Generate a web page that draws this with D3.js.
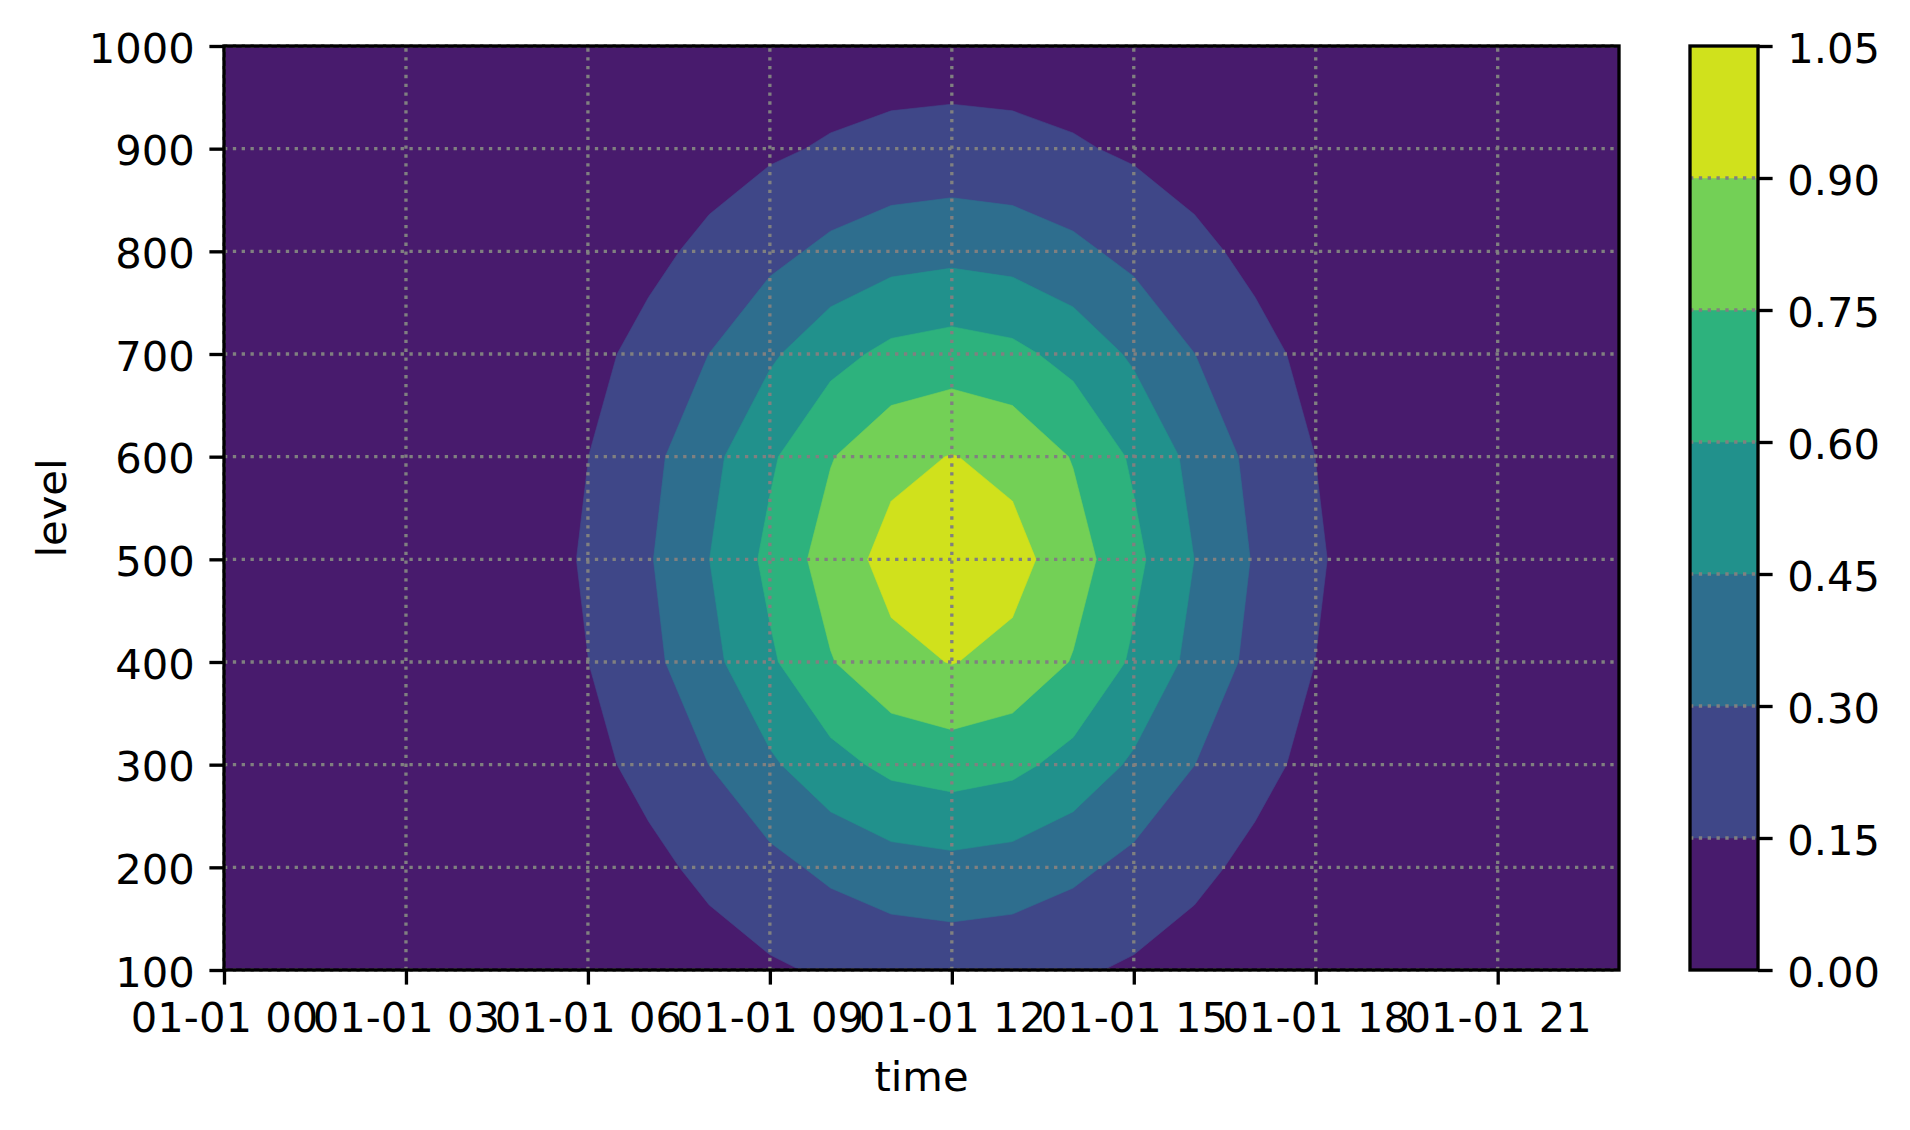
<!DOCTYPE html>
<html><head><meta charset="utf-8">
<script src="https://cdn.jsdelivr.net/npm/d3@7"></script>
<style>
body{margin:0;background:#fff}
text{font-family:"DejaVu Sans",sans-serif;}
</style>
</head><body>
<svg id="chart" width="1910" height="1130"></svg>
<script>
// ---------- data ----------
const hours = [0,1,2,3,4,5,6,7,8,9,10,11,12,13,14,15,16,17,18,19,20,21,22,23];
const levels = [100,200,300,400,500,600,700,800,900,1000];
// one row per level (bottom to top), one value per hour
const v100  = [0.000,0.000,0.001,0.004,0.008,0.018,0.034,0.059,0.093,0.131,0.169,0.196,0.206,0.196,0.169,0.131,0.093,0.059,0.034,0.018,0.008,0.004,0.001,0.000];
const v200  = [0.000,0.001,0.003,0.007,0.017,0.035,0.067,0.116,0.183,0.259,0.333,0.387,0.407,0.387,0.333,0.259,0.183,0.116,0.067,0.035,0.017,0.007,0.003,0.001];
const v300  = [0.000,0.002,0.004,0.012,0.027,0.058,0.111,0.192,0.301,0.427,0.549,0.638,0.670,0.638,0.549,0.427,0.301,0.192,0.111,0.058,0.027,0.012,0.004,0.002];
const v400  = [0.001,0.002,0.006,0.016,0.037,0.078,0.149,0.259,0.407,0.577,0.741,0.861,0.905,0.861,0.741,0.577,0.407,0.259,0.149,0.078,0.037,0.016,0.006,0.002];
const v500  = [0.001,0.002,0.007,0.017,0.041,0.086,0.165,0.287,0.449,0.638,0.819,0.951,1.000,0.951,0.819,0.638,0.449,0.287,0.165,0.086,0.041,0.017,0.007,0.002];
const v600  = [0.001,0.002,0.006,0.016,0.037,0.078,0.149,0.259,0.407,0.577,0.741,0.861,0.905,0.861,0.741,0.577,0.407,0.259,0.149,0.078,0.037,0.016,0.006,0.002];
const v700  = [0.000,0.002,0.004,0.012,0.027,0.058,0.111,0.192,0.301,0.427,0.549,0.638,0.670,0.638,0.549,0.427,0.301,0.192,0.111,0.058,0.027,0.012,0.004,0.002];
const v800  = [0.000,0.001,0.003,0.007,0.017,0.035,0.067,0.116,0.183,0.259,0.333,0.387,0.407,0.387,0.333,0.259,0.183,0.116,0.067,0.035,0.017,0.007,0.003,0.001];
const v900  = [0.000,0.000,0.001,0.004,0.008,0.017,0.033,0.058,0.091,0.129,0.165,0.192,0.202,0.192,0.165,0.129,0.091,0.058,0.033,0.017,0.008,0.004,0.001,0.000];
const v1000 = [0.000,0.000,0.001,0.001,0.003,0.007,0.014,0.024,0.037,0.052,0.067,0.078,0.082,0.078,0.067,0.052,0.037,0.024,0.014,0.007,0.003,0.001,0.001,0.000];
const contourLevels = [0,0.15,0.30,0.45,0.60,0.75,0.90,1.05];
const xTickHours = [0,3,6,9,12,15,18,21];
const xTickLabels = ["01-01 00","01-01 03","01-01 06","01-01 09","01-01 12","01-01 15","01-01 18","01-01 21"];
const yTicks = [100,200,300,400,500,600,700,800,900,1000];
const cbTickLabels = ["0.00","0.15","0.30","0.45","0.60","0.75","0.90","1.05"];

const grid = [v100,v200,v300,v400,v500,v600,v700,v800,v900,v1000];

// ---------- layout ----------
const L = 224, R = 1619, T = 46, B = 970;
const CBL = 1690, CBR = 1758;
const FS = 41.67, LW = 3.33, TICK = 14.6, PAD = 14.6;
const GRID_COLOR = "#808080", DASH = "3.33,5.5";

const svg = d3.select("#chart");
const x = d3.scaleLinear().domain([hours[0], hours[hours.length-1]]).range([L, R]);
const y = d3.scaleLinear().domain([levels[0], levels[levels.length-1]]).range([B, T]);
const cy = d3.scaleLinear().domain([contourLevels[0], contourLevels[contourLevels.length-1]]).range([B, T]);
const vmax = contourLevels[contourLevels.length-1];
const bandColor = i => d3.interpolateViridis(((contourLevels[i] + contourLevels[i+1]) / 2) / vmax);

// ---------- contours ----------
svg.append("defs").append("clipPath").attr("id","plotclip")
  .append("rect").attr("x",L).attr("y",T).attr("width",R-L).attr("height",B-T);

const nx = hours.length, ny = levels.length;
const flat = [];
grid.forEach(row => row.forEach(v => flat.push(v)));
const hStep = hours[1]-hours[0], lStep = levels[1]-levels[0];
const proj = d3.geoTransform({
  point(px, py) {
    this.stream.point(x(hours[0] + (px - 0.5) * hStep), y(levels[0] + (py - 0.5) * lStep));
  }
});
const path = d3.geoPath(proj);
const cgen = d3.contours().size([nx, ny]).thresholds(contourLevels.slice(1, -1));
const polys = cgen(flat);

const gc = svg.append("g").attr("clip-path","url(#plotclip)");
gc.append("rect").attr("x",L).attr("y",T).attr("width",R-L).attr("height",B-T).attr("fill", bandColor(0));
gc.selectAll("path.c").data(polys).join("path").attr("class","c")
  .attr("d", path)
  .attr("fill", (d,i) => bandColor(i+1))
  .attr("stroke", (d,i) => bandColor(i+1)).attr("stroke-width", 0.6);

// ---------- grid ----------
const gg = svg.append("g");
xTickHours.forEach(h => {
  gg.append("line").attr("x1",x(h)).attr("x2",x(h)).attr("y1",B).attr("y2",T)
    .attr("stroke",GRID_COLOR).attr("stroke-width",LW).attr("stroke-dasharray",DASH);
});
yTicks.forEach(l => {
  gg.append("line").attr("x1",L).attr("x2",R).attr("y1",y(l)).attr("y2",y(l))
    .attr("stroke",GRID_COLOR).attr("stroke-width",LW).attr("stroke-dasharray",DASH);
});

// ---------- axes ----------
const xAxis = d3.axisBottom(x).tickValues(xTickHours).tickFormat((d,i)=>xTickLabels[i])
  .tickSize(TICK).tickPadding(PAD);
const gx = svg.append("g").attr("transform",`translate(0,${B})`).call(xAxis);
gx.select(".domain").remove();
gx.selectAll(".tick line").attr("stroke","#000").attr("stroke-width",LW);
gx.selectAll(".tick text").attr("font-size",FS).attr("fill","#000")
  .attr("font-family","DejaVu Sans").attr("dy",null).attr("y", 1032 - B);

const yAxis = d3.axisLeft(y).tickValues(yTicks).tickFormat(d3.format("d"))
  .tickSize(TICK).tickPadding(PAD);
const gy = svg.append("g").attr("transform",`translate(${L},0)`).call(yAxis);
gy.select(".domain").remove();
gy.selectAll(".tick line").attr("stroke","#000").attr("stroke-width",LW);
gy.selectAll(".tick text").attr("font-size",FS).attr("fill","#000")
  .attr("font-family","DejaVu Sans").attr("dy",null).attr("y",16);

// frame
svg.append("rect").attr("x",L).attr("y",T).attr("width",R-L).attr("height",B-T)
  .attr("fill","none").attr("stroke","#000").attr("stroke-width",LW).attr("stroke-linejoin","miter");

// axis labels
svg.append("text").attr("x",(L+R)/2).attr("y",1091).attr("text-anchor","middle")
  .attr("font-size",FS).text("time");
svg.append("text").attr("transform",`translate(66,${(T+B)/2}) rotate(-90)`).attr("text-anchor","middle")
  .attr("font-size",FS).text("level");

// ---------- colorbar ----------
const gcb = svg.append("g");
for (let i = 0; i < contourLevels.length-1; i++) {
  gcb.append("rect").attr("x",CBL).attr("width",CBR-CBL)
    .attr("y",cy(contourLevels[i+1])).attr("height",cy(contourLevels[i]) - cy(contourLevels[i+1]))
    .attr("fill",bandColor(i)).attr("stroke",bandColor(i)).attr("stroke-width",0.5);
}
contourLevels.slice(1,-1).forEach(v => {
  gcb.append("line").attr("x1",CBL).attr("x2",CBR).attr("y1",cy(v)).attr("y2",cy(v))
    .attr("stroke",GRID_COLOR).attr("stroke-width",LW).attr("stroke-dasharray",DASH);
});
const cbAxis = d3.axisRight(cy).tickValues(contourLevels).tickFormat((d,i)=>cbTickLabels[i])
  .tickSize(TICK).tickPadding(PAD);
const gca = svg.append("g").attr("transform",`translate(${CBR},0)`).call(cbAxis);
gca.select(".domain").remove();
gca.selectAll(".tick line").attr("stroke","#000").attr("stroke-width",LW);
gca.selectAll(".tick text").attr("font-size",FS).attr("fill","#000")
  .attr("font-family","DejaVu Sans").attr("dy",null).attr("y",16);
gcb.append("rect").attr("x",CBL).attr("y",T).attr("width",CBR-CBL).attr("height",B-T)
  .attr("fill","none").attr("stroke","#000").attr("stroke-width",LW);
</script>
</body></html>
